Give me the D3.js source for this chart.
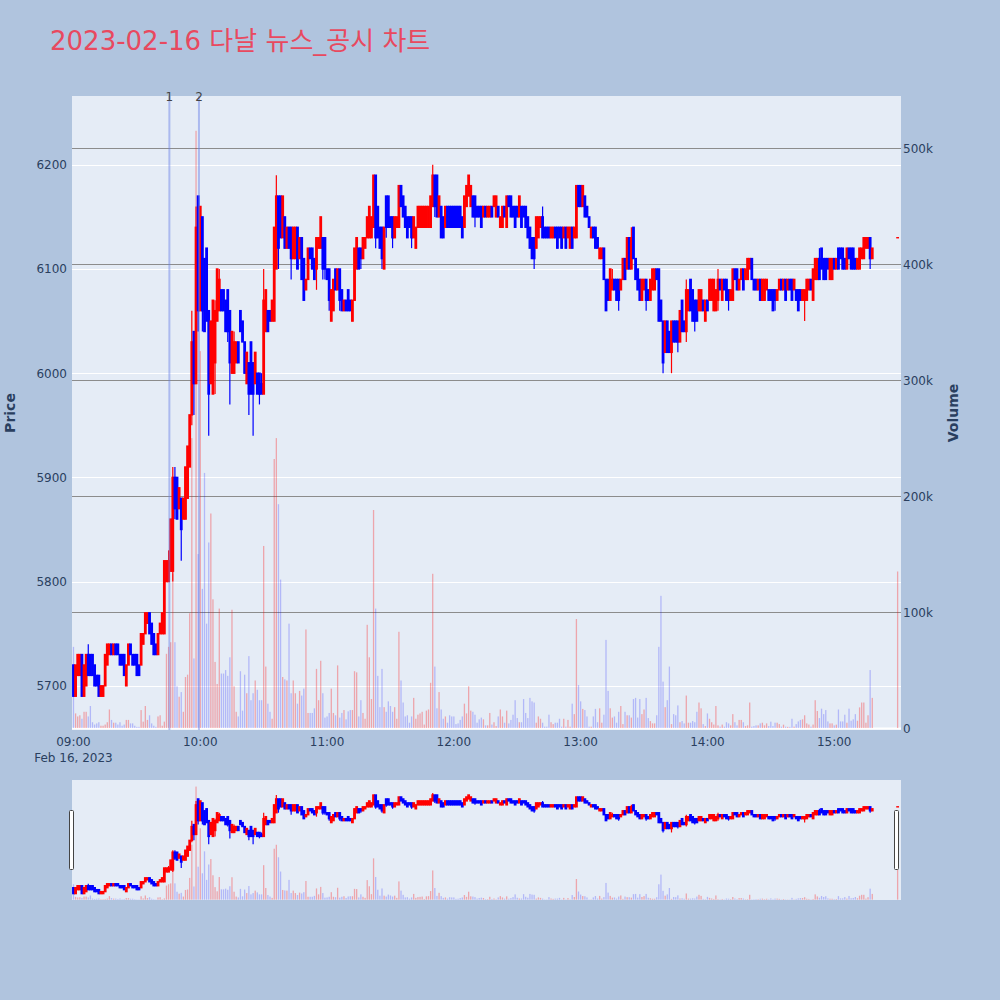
<!DOCTYPE html>
<html><head><meta charset="utf-8">
<script src="https://cdn.jsdelivr.net/npm/d3@7"></script>
<style>body{margin:0;background:#b0c4de}svg{display:block}</style>
</head><body>
<svg id="c" width="1000" height="1000"></svg>
<script>
// ---------------- DATA ----------------
const chartTitle = "2023-02-16 다날 뉴스_공시 차트";
const sessionDate = [2023, 1, 16];           // Feb 16, 2023
const sessionStartHour = 9;                  // 09:00
const continuousMinutes = 379;               // 1-minute candles 09:00 – 15:18
const closingAuctionMinute = 390;            // 15:30 closing price
const newsTimes = ["09:45", "09:59"];
const newsLabels = ["1", "2"];
const priceTicks = [5700, 5800, 5900, 6000, 6100, 6200];
const volumeTicks = [0, 100, 200, 300, 400, 500]; // thousands

const open = [
5720,5690,5710,5710,5730,5690,5700,5730,5730,5730, 5720,5710,5710,5690,5690,5700,5720,5730,5740,5730,
5740,5740,5730,5730,5730,5700,5720,5740,5730,5730, 5730,5720,5720,5740,5750,5760,5770,5760,5750,5740,
5730,5750,5750,5750,5800,5800,5810,5810,5900,5900, 5870,5880,5860,5860,5880,5910,5960,6040,5990,6170,
6060,6150,6110,6120,6060,5990,5980,6010,6050,6060, 6080,6080,6070,6080,6060,6000,6000,6010,6030,6060,
6050,6030,5990,6010,6030,6010,5990,6000,6000,5990, 5980,6040,6060,6060,6050,6050,6100,6170,6170,6130,
6150,6120,6140,6140,6110,6110,6140,6110,6130,6110, 6080,6090,6120,6120,6110,6100,6120,6120,6130,6130,
6100,6100,6050,6060,6100,6080,6100,6080,6060,6070, 6080,6070,6050,6070,6100,6120,6120,6110,6120,6130,
6130,6130,6140,6190,6160,6140,6140,6100,6170,6170, 6150,6150,6130,6140,6140,6180,6170,6160,6150,6150,
6150,6130,6120,6140,6140,6140,6140,6140,6140,6140, 6160,6190,6190,6150,6160,6150,6140,6160,6160,6160,
6160,6160,6160,6160,6150,6140,6160,6170,6160,6170, 6170,6160,6160,6160,6150,6160,6150,6150,6160,6160,
6150,6160,6140,6140,6160,6140,6170,6170,6160,6160, 6160,6150,6160,6160,6160,6150,6140,6130,6130,6120,
6130,6140,6150,6140,6140,6140,6130,6130,6140,6140, 6140,6140,6130,6140,6130,6120,6140,6130,6130,6180,
6180,6160,6170,6160,6150,6130,6140,6140,6130,6110, 6110,6120,6090,6090,6070,6080,6090,6090,6090,6080,
6090,6110,6100,6130,6100,6140,6110,6100,6090,6070, 6080,6090,6080,6070,6080,6080,6100,6100,6070,6050,
6020,6050,6040,6020,6050,6050,6050,6030,6070,6050, 6040,6060,6090,6080,6070,6070,6060,6060,6070,6050,
6070,6070,6070,6060,6060,6070,6090,6070,6090,6090, 6080,6070,6070,6100,6100,6080,6090,6100,6090,6090,
6100,6110,6090,6090,6080,6090,6070,6070,6080,6080, 6080,6080,6080,6070,6080,6090,6080,6090,6080,6090,
6090,6080,6080,6080,6080,6070,6070,6070,6080,6090, 6070,6090,6090,6110,6120,6110,6110,6110,6090,6090,
6110,6100,6120,6120,6120,6110,6100,6120,6120,6120, 6110,6100,6100,6110,6110,6120,6120,6130,6110,
6130];
const high = [
5720,5720,5730,5730,5730,5720,5730,5740,5730,5730, 5720,5710,5710,5700,5700,5730,5740,5740,5740,5740,
5740,5740,5730,5730,5730,5720,5740,5740,5730,5730, 5730,5720,5750,5750,5770,5770,5770,5760,5750,5740,
5750,5760,5770,5820,5820,5830,5860,5910,5910,5900, 5890,5880,5880,5910,5930,5960,6060,6040,6160,6170,
6160,6150,6110,6120,6060,6050,6070,6070,6100,6100, 6080,6080,6070,6080,6060,6040,6040,6030,6030,6060,
6050,6030,6020,6010,6030,6010,6020,6000,6000,6000, 6100,6080,6060,6060,6070,6140,6190,6170,6170,6170,
6150,6140,6140,6140,6140,6140,6140,6130,6130,6110, 6090,6120,6120,6120,6110,6130,6130,6150,6130,6130,
6100,6100,6080,6090,6100,6100,6100,6080,6070,6070, 6080,6070,6070,6120,6130,6120,6120,6130,6130,6150,
6160,6150,6190,6190,6160,6140,6140,6140,6170,6170, 6150,6150,6150,6150,6180,6180,6170,6160,6150,6150,
6150,6150,6140,6160,6160,6160,6160,6160,6160,6170, 6200,6190,6190,6170,6160,6150,6160,6160,6160,6160,
6160,6160,6160,6160,6150,6170,6180,6190,6180,6170, 6170,6160,6160,6160,6160,6160,6160,6160,6160,6170,
6170,6160,6150,6160,6160,6170,6170,6170,6160,6160, 6160,6170,6160,6160,6160,6150,6140,6130,6130,6150,
6150,6150,6160,6140,6140,6140,6140,6140,6140,6140, 6140,6140,6140,6140,6140,6140,6140,6140,6180,6180,
6180,6180,6170,6160,6150,6140,6140,6140,6130,6120, 6120,6120,6090,6090,6100,6100,6090,6090,6090,6090,
6110,6110,6130,6130,6140,6140,6110,6100,6090,6090, 6090,6090,6080,6090,6100,6100,6100,6100,6070,6050,
6050,6050,6040,6050,6050,6050,6050,6060,6070,6050, 6090,6080,6090,6080,6070,6070,6080,6080,6070,6070,
6070,6090,6090,6090,6080,6100,6090,6090,6090,6090, 6080,6080,6100,6100,6100,6090,6100,6100,6100,6110,
6110,6110,6090,6090,6090,6090,6090,6090,6090,6080, 6080,6080,6080,6080,6090,6090,6090,6090,6090,6090,
6090,6090,6080,6080,6080,6080,6080,6090,6090,6090, 6100,6110,6110,6120,6120,6110,6110,6110,6110,6110,
6110,6110,6120,6120,6120,6110,6120,6120,6120,6120, 6110,6110,6120,6120,6130,6130,6130,6130,6120,
6130];
const low = [
5690,5690,5710,5710,5690,5690,5700,5710,5710,5710, 5700,5700,5690,5690,5690,5700,5720,5730,5730,5730,
5730,5730,5720,5720,5710,5700,5720,5730,5720,5720, 5710,5710,5720,5740,5750,5760,5750,5740,5730,5730,
5730,5750,5750,5750,5800,5800,5810,5800,5860,5860, 5870,5820,5860,5860,5880,5910,5950,5960,5990,6040,
6060,6040,6040,6050,5940,5990,5980,5980,6050,6060, 6060,6060,6040,6030,5970,6000,6000,6010,6010,6040,
6030,6000,5990,5960,5980,5940,5990,5980,5970,5980, 5980,6040,6040,6050,6050,6050,6100,6100,6130,6130,
6120,6120,6120,6090,6110,6110,6100,6110,6090,6070, 6080,6090,6110,6100,6090,6080,6120,6120,6090,6090,
6090,6060,6050,6060,6080,6080,6060,6060,6060,6060, 6060,6060,6050,6070,6100,6100,6100,6110,6120,6130,
6130,6130,6140,6120,6130,6120,6100,6100,6130,6140, 6140,6120,6130,6140,6140,6160,6150,6140,6130,6140,
6120,6130,6120,6140,6140,6140,6140,6140,6140,6140, 6160,6150,6150,6150,6130,6130,6140,6140,6140,6140,
6140,6140,6140,6140,6130,6140,6160,6170,6160,6150, 6140,6150,6150,6140,6150,6150,6150,6150,6150,6160,
6150,6150,6140,6140,6150,6140,6160,6150,6150,6140, 6150,6150,6140,6150,6140,6130,6120,6110,6100,6120,
6130,6140,6130,6130,6130,6130,6130,6130,6130,6120, 6130,6120,6130,6120,6130,6120,6120,6130,6130,6160,
6160,6160,6150,6150,6140,6130,6130,6120,6120,6110, 6110,6090,6060,6070,6070,6080,6080,6070,6060,6080,
6090,6090,6100,6100,6100,6110,6090,6080,6070,6070, 6080,6060,6070,6070,6080,6080,6090,6050,6050,6000,
6020,6020,6020,6000,6030,6030,6020,6030,6040,6040, 6030,6060,6060,6050,6040,6050,6060,6060,6060,6050,
6060,6070,6070,6060,6060,6060,6080,6070,6080,6070, 6060,6070,6070,6090,6080,6080,6090,6080,6090,6090,
6100,6090,6080,6080,6080,6070,6070,6070,6080,6070, 6070,6060,6060,6070,6080,6080,6080,6070,6080,6080,
6070,6080,6070,6060,6070,6070,6050,6070,6080,6080, 6070,6090,6090,6090,6100,6090,6090,6100,6090,6090,
6100,6100,6100,6110,6100,6100,6100,6110,6100,6100, 6100,6100,6100,6110,6110,6120,6120,6100,6110,
6130];
const close = [
5690,5720,5730,5730,5690,5720,5730,5710,5710,5710, 5700,5700,5690,5700,5700,5730,5740,5740,5730,5740,
5730,5730,5720,5720,5710,5720,5740,5730,5720,5720, 5710,5710,5750,5750,5770,5770,5750,5740,5730,5730,
5750,5760,5770,5820,5820,5820,5860,5900,5870,5860, 5890,5850,5880,5910,5930,5960,6030,5990,6140,6060,
6160,6060,6040,6050,5980,6050,6070,6060,6100,6090, 6060,6060,6040,6040,6010,6040,6030,6030,6010,6040,
6030,6000,6020,5980,5980,5980,6020,5980,5980,5980, 6070,6080,6040,6050,6070,6140,6170,6120,6130,6170,
6120,6140,6120,6110,6140,6140,6100,6130,6090,6070, 6090,6120,6110,6100,6090,6130,6130,6150,6100,6100,
6090,6070,6080,6090,6080,6100,6070,6060,6070,6060, 6060,6060,6070,6120,6130,6100,6110,6130,6130,6150,
6160,6150,6190,6130,6130,6120,6110,6140,6140,6140, 6140,6130,6150,6150,6180,6160,6150,6140,6130,6140,
6130,6150,6140,6160,6160,6160,6160,6160,6160,6170, 6190,6160,6150,6170,6130,6130,6160,6140,6140,6140,
6140,6140,6140,6140,6130,6170,6180,6190,6180,6150, 6150,6150,6150,6140,6160,6150,6160,6160,6150,6170,
6170,6150,6150,6160,6150,6170,6160,6150,6150,6140, 6150,6170,6140,6150,6140,6130,6120,6110,6110,6150,
6150,6150,6130,6130,6130,6130,6140,6140,6130,6120, 6130,6120,6140,6120,6140,6140,6120,6140,6180,6160,
6160,6180,6150,6150,6140,6140,6130,6120,6120,6120, 6120,6090,6060,6070,6100,6090,6080,6070,6070,6090,
6110,6090,6130,6100,6130,6110,6090,6080,6070,6090, 6090,6070,6070,6090,6100,6100,6090,6050,6050,6010,
6050,6020,6020,6050,6030,6030,6030,6060,6040,6040, 6080,6080,6060,6050,6050,6050,6080,6080,6060,6070,
6060,6090,6090,6090,6080,6090,6080,6090,6080,6070, 6070,6080,6100,6090,6080,6090,6100,6080,6100,6110,
6110,6090,6080,6080,6090,6070,6090,6090,6090,6070, 6070,6060,6070,6080,6090,6080,6090,6070,6090,6080,
6070,6090,6070,6060,6070,6080,6080,6090,6090,6080, 6100,6110,6110,6090,6100,6090,6090,6100,6110,6110,
6100,6110,6100,6110,6100,6100,6120,6110,6100,6100, 6100,6110,6120,6120,6130,6130,6130,6110,6120,
6130];
// volume in thousands of shares
const volumeK = [
70,12.6,10,11,8,14,14,10,19,5, 3,4,5,2,2,3,5,16,7,4.6,
4.6,3,5,2,3,7,7,4,4,2, 1,1,15.5,5.5,19,7,11,4,2,1,
10,11,2,5.5,64,70,74,133,74,36, 27,31,14,44,46,99,250,60,515,150,
325,120,220,90,160,185,111,57,38,103, 47,47,50,45,61,102,36,14,10,49,
15,46,30,62,24,30,41,33,24,24, 157,53,21,14,8,232,250,193,128,44,
42,41,90,30,41,30,21,32,28,34, 85,13,13,13,17,51,24,58,30,9,
10,13,34,13,11,54,9,13,15.5,7.5, 14.4,15.5,15.5,49,48,10,24,13,8,89,
61,25,188,103,45,18,51,18,14,23, 19,14,18,8,83,41,22,10,11,4.6,
10,26,8,11.5,12.6,14,3,15,16,39, 133,53,17,31,16,8,10,4.6,11,10,
10,3.4,4,7,10,21,12.6,36,15,14, 11.5,4.6,7.5,9,7.5,2.3,2.3,13,3,5,
1.7,10,16,10,4.6,15,4,7,11.5,24, 8.6,5,5,25,13,8.6,26,23,22,4.6,
10,8,4.6,1.2,1.2,11.5,5,3.4,4.6,4.6, 8,1.2,8,1.2,7,1.2,21,12,94,37,
23,16.5,15.5,10,1.2,1.2,10,16.5,5,17, 4.6,11.5,76,32,17,9,10,4.6,14,19,
3.4,14,11,11,9,25,26,9,25,12, 16,26,8.6,6,4,4,11,70,114,40,
18,24,53,3.4,12,11,19.5,5,6,4, 28,4.6,4.6,6,5,14,22,17,3.4,1.7,
12.6,8,5,3,19,2.3,1.2,3,1.2,5, 4,2.3,12,5,2.3,7,7,5,1.7,2.3,
22,1.2,1.7,2.3,2.3,4,4.6,2.3,4,1.7, 5.5,1.7,4.6,4.6,3.4,1.2,2.9,1.2,1,1,
8,1.2,3.4,5.7,7,7.5,11,4,3,1.2, 3,24,14.7,8.6,16.7,12,15.5,5.7,4,4,
2.3,2.9,16,5.7,5.7,11.5,4.6,16.7,6.3,7.5, 12,6.3,17.8,22,22,4.6,11,50,26,
135];

// ---------------- CHART ----------------
const minuteIdx = d3.range(continuousMinutes).concat([closingAuctionMinute]);
const t0 = new Date(sessionDate[0], sessionDate[1], sessionDate[2], sessionStartHour, 0);
const toDate = m => new Date(t0.getTime() + m * 60000);
const data = minuteIdx.map((m, i) => ({
  t: toDate(m), o: open[i], h: high[i], l: low[i], c: close[i], v: volumeK[i],
  up: close[i] >= open[i]
}));

const svg = d3.select("#c");
const FONT = "Verdana, 'DejaVu Sans', sans-serif";
const TXT = "#2a3f5f";
const P = {l: 72, r: 901, t: 96, b: 730};
const S = {l: 72, r: 901, t: 780, b: 900};
const RED = "#ff0000", BLUE = "#0000ff";

svg.append("rect").attr("width", 1000).attr("height", 1000).attr("fill", "#b0c4de");

svg.append("text").attr("x", 50).attr("y", 50)
  .attr("font-family", "'DejaVu Sans', 'Noto Sans CJK KR', sans-serif").attr("font-size", 26)
  .attr("fill", "#e8495f").text(chartTitle);

const x = d3.scaleTime().domain([toDate(-0.7), toDate(391.6)]).range([P.l, P.r]);
const y = d3.scaleLinear().domain([5657.6, 6266]).range([P.b, P.t]);
const yv = d3.scaleLinear().domain([-1.7, 545]).range([P.b, P.t]);

svg.append("rect").attr("x", P.l).attr("y", P.t).attr("width", P.r - P.l).attr("height", P.b - P.t).attr("fill", "#e5ecf6");
svg.append("defs").append("clipPath").attr("id", "clipP")
  .append("rect").attr("x", P.l).attr("y", P.t).attr("width", P.r - P.l).attr("height", P.b - P.t);

// price grid (white)
svg.append("g").selectAll("line").data(priceTicks).join("line")
  .attr("x1", P.l).attr("x2", P.r).attr("y1", d => Math.round(y(d)) + 0.5).attr("y2", d => Math.round(y(d)) + 0.5)
  .attr("stroke", "#fff").attr("stroke-width", 1);
// volume grid (grey) and zero line
svg.append("g").selectAll("line").data(volumeTicks).join("line")
  .attr("x1", P.l).attr("x2", P.r).attr("y1", d => Math.round(yv(d)) + 0.5).attr("y2", d => Math.round(yv(d)) + 0.5)
  .attr("stroke", d => d === 0 ? "#fff" : "#8c8c8c").attr("stroke-width", d => d === 0 ? 2 : 1);

function drawVolume(g, xs, ys, w) {
  g.selectAll("rect").data(data).join("rect")
    .attr("x", d => xs(d.t) - w / 2).attr("width", w)
    .attr("y", d => ys(d.v)).attr("height", d => Math.max(0, ys(0) - ys(d.v)))
    .attr("fill", d => d.up ? "rgba(255,0,0,0.3)" : "rgba(0,0,255,0.22)");
}
function drawCandles(g, xs, ys, bw) {
  const c = g.selectAll("g").data(data).join("g");
  c.append("line")
    .attr("x1", d => xs(d.t)).attr("x2", d => xs(d.t))
    .attr("y1", d => ys(d.h)).attr("y2", d => ys(d.l))
    .attr("stroke", d => d.up ? RED : BLUE).attr("stroke-width", 1.2);
  c.append("rect")
    .attr("x", d => xs(d.t) - bw / 2).attr("width", bw)
    .attr("y", d => ys(Math.max(d.o, d.c)))
    .attr("height", d => Math.max(0.01, Math.abs(ys(d.o) - ys(d.c))))
    .attr("fill", d => d.up ? RED : BLUE)
    .attr("stroke", d => d.up ? RED : BLUE).attr("stroke-width", 1.4);
}

const main = svg.append("g").attr("clip-path", "url(#clipP)");
drawVolume(main.append("g"), x, yv, 1.3);
drawCandles(main.append("g"), x, y, 1.4);

// news lines
const parseHM = s => { const [h, m] = s.split(":").map(Number); return toDate((h - sessionStartHour) * 60 + m); };
newsTimes.forEach((s, i) => {
  const xx = x(parseHM(s)) + 0.8;
  svg.append("line").attr("x1", xx).attr("x2", xx).attr("y1", P.t).attr("y2", P.b)
    .attr("stroke", "rgba(100,125,230,0.45)").attr("stroke-width", 2);
  svg.append("text").attr("x", xx).attr("y", 101).attr("text-anchor", "middle")
    .attr("font-family", FONT).attr("font-size", 12).attr("fill", "#444").text(newsLabels[i]);
});

// axes labels
const ticksX = d3.timeHour.every(1).range(toDate(0), toDate(391));
svg.append("g").selectAll("text").data(ticksX).join("text")
  .attr("x", d => x(d)).attr("y", 746).attr("text-anchor", "middle")
  .attr("font-family", FONT).attr("font-size", 12).attr("fill", TXT)
  .text(d3.timeFormat("%H:%M"));
svg.append("text").attr("x", x(toDate(0))).attr("y", 762).attr("text-anchor", "middle")
  .attr("font-family", FONT).attr("font-size", 12).attr("fill", TXT)
  .text(d3.timeFormat("%b %-d, %Y")(t0));

svg.append("g").selectAll("text").data(priceTicks).join("text")
  .attr("x", 67).attr("y", d => y(d) + 4.5).attr("text-anchor", "end")
  .attr("font-family", FONT).attr("font-size", 12).attr("fill", TXT).text(d => d);
svg.append("g").selectAll("text").data(volumeTicks).join("text")
  .attr("x", 903).attr("y", d => yv(d) + 4.5).attr("text-anchor", "start")
  .attr("font-family", FONT).attr("font-size", 12).attr("fill", TXT)
  .text(d => d === 0 ? "0" : d + "k");

svg.append("text").attr("transform", `translate(15,${(P.t + P.b) / 2}) rotate(-90)`)
  .attr("text-anchor", "middle").attr("font-family", FONT).attr("font-size", 14)
  .attr("font-weight", "bold").attr("fill", TXT).text("Price");
svg.append("text").attr("transform", `translate(958,${(P.t + P.b) / 2}) rotate(-90)`)
  .attr("text-anchor", "middle").attr("font-family", FONT).attr("font-size", 14)
  .attr("font-weight", "bold").attr("fill", TXT).text("Volume");

// range slider
const xs = d3.scaleTime().domain(x.domain()).range([S.l, S.r]);
const ys = d3.scaleLinear().domain(y.domain()).range([S.b, S.t]);
const yvs = d3.scaleLinear().domain(yv.domain()).range([S.b, S.t]);
svg.append("rect").attr("x", S.l).attr("y", S.t).attr("width", S.r - S.l).attr("height", S.b - S.t).attr("fill", "#e5ecf6");
svg.select("defs").append("clipPath").attr("id", "clipS")
  .append("rect").attr("x", S.l).attr("y", S.t).attr("width", S.r - S.l).attr("height", S.b - S.t);
const sg = svg.append("g").attr("clip-path", "url(#clipS)");
drawVolume(sg.append("g"), xs, yvs, 1.3);
drawCandles(sg.append("g"), xs, ys, 1.4);
[S.l, S.r - 4].forEach(hx => {
  svg.append("rect").attr("x", hx - 2.5).attr("y", 810.5).attr("width", 4).attr("height", 59)
    .attr("fill", "#fff").attr("stroke", "#444").attr("stroke-width", 1).attr("rx", 1);
});
</script>
</body></html>
